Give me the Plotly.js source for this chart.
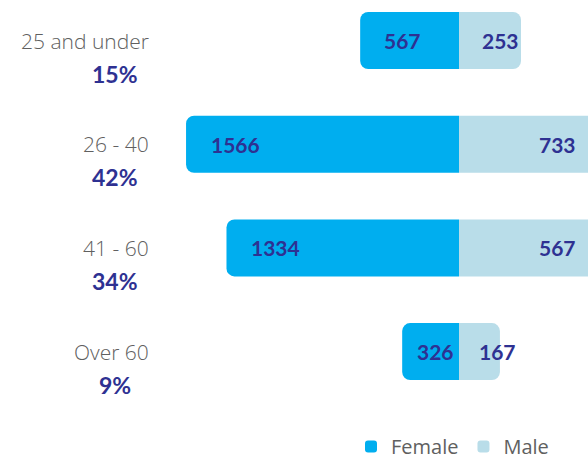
<!DOCTYPE html>
<html>
<head>
<meta charset="utf-8">
<script src="https://cdn.plot.ly/plotly-3.0.1.min.js"></script>
<style>html,body{margin:0;padding:0;background:#fff;}#chart{width:588px;height:466px;}</style>
</head>
<body>
<div id="chart"></div>
<script>
// ---- data ----
const categories = ["25 and under", "26 - 40", "41 - 60", "Over 60"];
const femaleValues = [567, 1566, 1334, 326];
const maleValues = [253, 733, 567, 167];
const seriesNames = ["Female", "Male"];

// ---- derived ----
const total = femaleValues.reduce((a, b) => a + b, 0) + maleValues.reduce((a, b) => a + b, 0);
const shares = categories.map((c, i) => Math.round((femaleValues[i] + maleValues[i]) / total * 100) + "%");
const idx = categories.map((c, i) => i);

const W = 588, H = 466;
const plotH = H;
const centerPx = 459;
const femaleScale = 0.1743;   // px per unit
const maleScale = 0.245;
const femaleRange = [-centerPx / femaleScale, (W - centerPx) / femaleScale];
const maleRange = [-centerPx / maleScale, (W - centerPx) / maleScale];
const rowPx = 103.7;
const yTop = -40.5 / rowPx;
const yRange = [yTop + plotH / rowPx, yTop];

const femaleColor = "#00AEEF";
const maleColor = "#B9DDE9";
const valueColor = "#2E3192";
const labelColor = "#606060";

const traces = [
  {
    type: "bar", orientation: "h", name: seriesNames[0],
    y: idx, x: femaleValues.map(v => -v), width: 0.55,
    marker: {color: femaleColor}, xaxis: "x", yaxis: "y",
    hoverinfo: "skip"
  },
  {
    type: "bar", orientation: "h", name: seriesNames[1],
    y: idx, x: maleValues, width: 0.55,
    marker: {color: maleColor}, xaxis: "x2", yaxis: "y",
    hoverinfo: "skip"
  }
];

const annotations = [];
categories.forEach((c, i) => {
  annotations.push({
    text: c, xref: "paper", yref: "y", x: 151 / W, y: i,
    xanchor: "right", yanchor: "middle", showarrow: false,
    font: {family: "Open Sans", size: 21, weight: 300, color: labelColor}
  });
  annotations.push({
    text: "<b>" + shares[i] + "</b>", xref: "paper", yref: "y", x: 115 / W, y: i,
    xanchor: "center", yanchor: "middle", yshift: -33, showarrow: false,
    font: {family: "Lato", size: 23, color: valueColor}
  });
  const fPx = femaleValues[i] * femaleScale;
  annotations.push({
    text: "<b>" + femaleValues[i] + "</b>", xref: "x", yref: "y", x: -femaleValues[i], y: i,
    xanchor: "left", yanchor: "middle", xshift: Math.min(23, 0.22 * fPx), showarrow: false,
    font: {family: "Lato", size: 21, color: valueColor}
  });
  const mx = Math.min(Math.max(maleValues[i], 240), 485);
  annotations.push({
    text: "<b>" + maleValues[i] + "</b>", xref: "x2", yref: "y", x: mx, y: i,
    xanchor: "right", yanchor: "middle", showarrow: false,
    font: {family: "Lato", size: 21, color: valueColor}
  });
});

const hidden = {showgrid: false, zeroline: false, showticklabels: false, showline: false, ticks: ""};

const layout = {
  width: W, height: H,
  margin: {l: 0, r: 0, t: 0, b: 0, pad: 0, autoexpand: false},
  paper_bgcolor: "#fff", plot_bgcolor: "rgba(0,0,0,0)",
  barmode: "overlay",
  barcornerradius: 8,
  xaxis: Object.assign({range: femaleRange, fixedrange: true}, hidden),
  xaxis2: Object.assign({range: maleRange, overlaying: "x", fixedrange: true}, hidden),
  yaxis: Object.assign({range: yRange, fixedrange: true}, hidden),
  showlegend: true,
  legend: {
    orientation: "h", x: 351 / W, xanchor: "left", y: 0, yanchor: "bottom",
    font: {family: "Open Sans", size: 20, color: labelColor},
    bgcolor: "rgba(0,0,0,0)", itemclick: false, itemdoubleclick: false,
    tracegroupgap: 0, itemwidth: 30
  },
  annotations: annotations
};

Plotly.newPlot("chart", traces, layout, {displayModeBar: false, staticPlot: true});
</script>
</body>
</html>
